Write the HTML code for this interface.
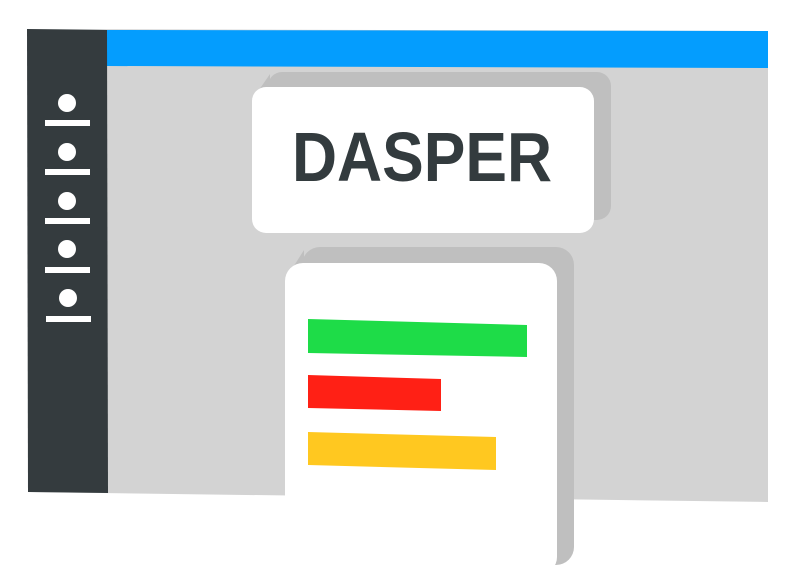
<!DOCTYPE html>
<html><head><style>html,body{margin:0;padding:0;background:#fff;width:800px;height:585px;overflow:hidden}</style></head>
<body>
<svg width="800" height="585" viewBox="0 0 800 585" xmlns="http://www.w3.org/2000/svg">
<polygon points="28,29 768,31 768,502 28,492" fill="#d3d3d3"/>
<polygon points="107,30 768,31 768,68 107,66" fill="#049dfe"/>
<polygon points="27,29 107,30 108,493 28,492" fill="#343b3e"/>
<g fill="#fff">
<circle cx="67" cy="103" r="9"/><rect x="45" y="120" width="45" height="6"/>
<circle cx="67" cy="152" r="9"/><rect x="45" y="169" width="45" height="6"/>
<circle cx="67" cy="201" r="9"/><rect x="45" y="218" width="45" height="6"/>
<circle cx="67" cy="249" r="9"/><rect x="45" y="267" width="45" height="6"/>
<circle cx="68" cy="298" r="9"/><rect x="46" y="316" width="45" height="6"/>
</g>
<rect x="268" y="72" width="343" height="148" rx="14" fill="#bfbfbf"/>
<polygon points="252,100 270,74 270,100" fill="#bfbfbf"/>
<rect x="252" y="87" width="342" height="146" rx="14" fill="#fff"/>
<text x="292" y="181" textLength="260" lengthAdjust="spacingAndGlyphs" font-family="Liberation Sans, sans-serif" font-size="70" font-weight="bold" fill="#333b3e">DASPER</text>
<rect x="302" y="247" width="272" height="318" rx="18" fill="#bfbfbf"/>
<polygon points="285,280 304,250 304,280" fill="#bfbfbf"/>
<rect x="285" y="263" width="272" height="312" rx="18" fill="#fff"/>
<polygon points="308,319 527,325 527,357 308,353" fill="#1edc48"/>
<polygon points="308,375 441,379 441,411 308,408" fill="#ff2015"/>
<polygon points="308,432 496,437 496,470 308,465" fill="#ffc820"/>
</svg>
</body></html>
